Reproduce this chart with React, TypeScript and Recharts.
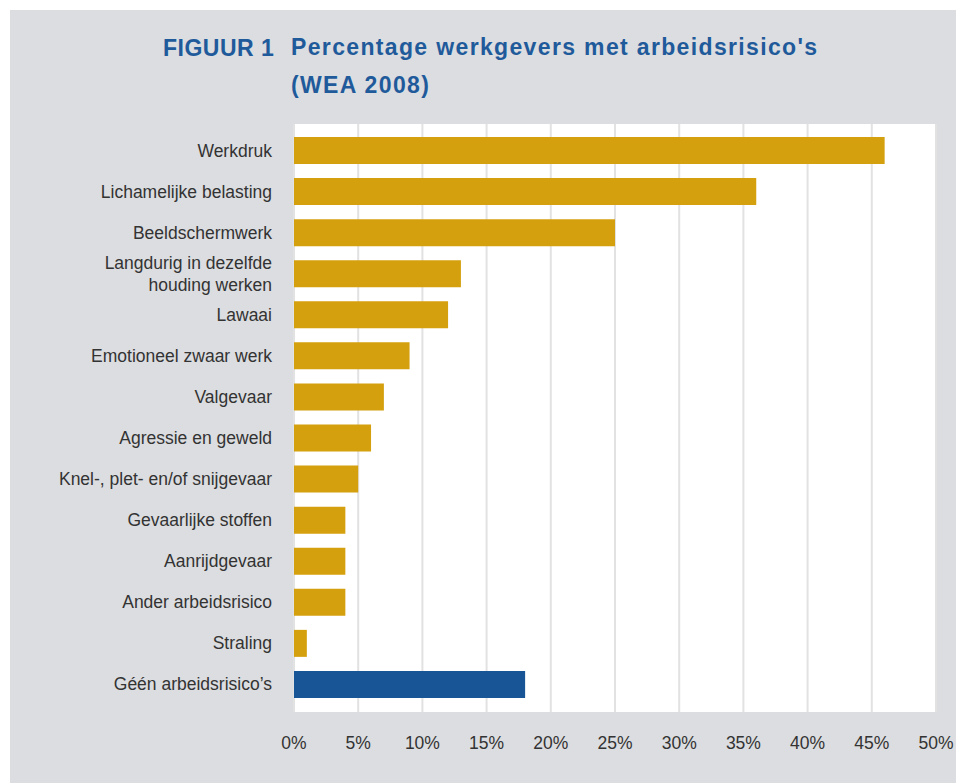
import { BarChart, Bar, XAxis, YAxis, CartesianGrid, Cell } from "recharts";

const categories = [
  "Werkdruk",
  "Lichamelijke belasting",
  "Beeldschermwerk",
  "Langdurig in dezelfde\nhouding werken",
  "Lawaai",
  "Emotioneel zwaar werk",
  "Valgevaar",
  "Agressie en geweld",
  "Knel-, plet- en/of snijgevaar",
  "Gevaarlijke stoffen",
  "Aanrijdgevaar",
  "Ander arbeidsrisico",
  "Straling",
  "Géén arbeidsrisico’s",
];
const percentages = [46, 36, 25, 13, 12, 9, 7, 6, 5, 4, 4, 4, 1, 18];
const xTicks = [0, 5, 10, 15, 20, 25, 30, 35, 40, 45, 50];
const noRiskLabel = "Géén arbeidsrisico’s";

const GOLD = "#d4a00d";
const BLUE = "#185597";
const FONT = "'Liberation Sans', Arial, sans-serif";

const data = categories.map((name, i) => ({ name, value: percentages[i] }));

function CategoryTick({ x, y, payload }: { x?: number; y?: number; payload?: { value: string } }) {
  const lines = (payload?.value ?? "").split("\n");
  const first = -((lines.length - 1) * 22) / 2 + 6;
  return (
    <text x={x} y={y} textAnchor="end" fill="#333" fontSize={17.5} fontFamily={FONT}>
      {lines.map((l, i) => (
        <tspan key={i} x={x} dy={i === 0 ? first : 22}>
          {l}
        </tspan>
      ))}
    </text>
  );
}

export default function App() {
  return (
    <div
      style={{
        position: "absolute",
        left: 10,
        top: 10,
        width: 946,
        height: 773,
        background: "#dcdde0",
        fontFamily: FONT,
      }}
    >
      <div style={{ position: "absolute", left: 153, top: 25, color: "#1f5a9b", fontWeight: 700, fontSize: 23, letterSpacing: 0.5 }}>
        FIGUUR 1
      </div>
      <div
        style={{
          position: "absolute",
          left: 281,
          top: 18,
          color: "#1f5a9b",
          fontWeight: 700,
          fontSize: 23,
          letterSpacing: 1.35,
          lineHeight: "38px",
        }}
      >
        Percentage werkgevers met arbeidsrisico's
        <br />
        (WEA 2008)
      </div>
      <BarChart
        width={946}
        height={773}
        data={data}
        layout="vertical"
        margin={{ top: 114, right: 20, bottom: 41, left: 0 }}
        style={{ position: "absolute", left: 0, top: 0 }}
      >
        <CartesianGrid horizontal={false} fill="#ffffff" stroke="#e2e2e2" strokeWidth={2} />
        <XAxis
          type="number"
          domain={[0, 50]}
          ticks={xTicks}
          tickFormatter={(v: number) => `${v}%`}
          axisLine={false}
          tickLine={false}
          tickSize={0}
          tickMargin={25}
          tick={{ fill: "#333", fontSize: 17.5, fontFamily: FONT }}
          interval={0}
          height={30}
        />
        <YAxis
          type="category"
          dataKey="name"
          width={284}
          axisLine={false}
          tickLine={false}
          tickSize={0}
          tickMargin={22}
          tick={<CategoryTick />}
          interval={0}
          padding={{ top: 6, bottom: 7 }}
        />
        <Bar dataKey="value" barSize={27} isAnimationActive={false}>
          {data.map((d) => (
            <Cell key={d.name} fill={d.name === noRiskLabel ? BLUE : GOLD} />
          ))}
        </Bar>
      </BarChart>
    </div>
  );
}
